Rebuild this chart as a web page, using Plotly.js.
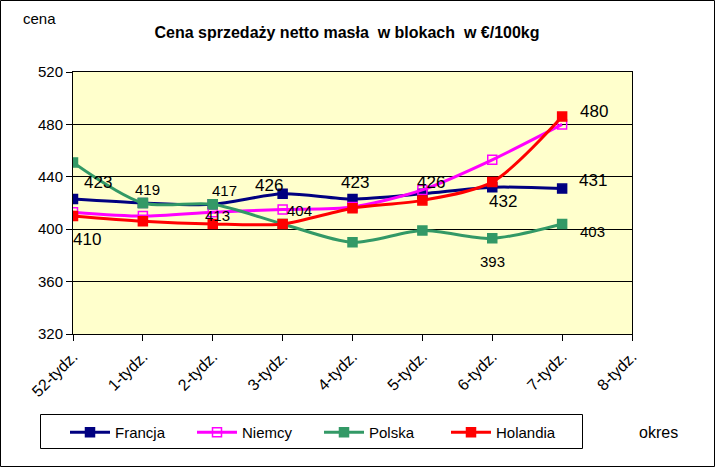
<!DOCTYPE html>
<html><head><meta charset="utf-8">
<script src="https://cdn.plot.ly/plotly-3.0.1.min.js"></script>
<style>body{margin:0;padding:0;background:#fff}#chart{width:715px;height:467px}</style>
</head><body><div id="chart"></div>
<script>
const categories = ["52-tydz.","1-tydz.","2-tydz.","3-tydz.","4-tydz.","5-tydz.","6-tydz.","7-tydz.","8-tydz."];
const dataCats = categories.slice(0,8);
const francja = [423, 420, 419, 427, 423, 427, 432, 431];
const niemcy  = [413, 410, 413, 415, 417, 430, 453, 480];
const polska  = [451, 420, 419, 404, 390, 399, 393, 404];
const holandia= [410, 406, 404, 404, 416, 422, 436, 486];
const labelTexts = ["423","419","417","413","426","404","410","423","426","432","393","480","431","403"];
const labelX =     [0.36, 1.07, 2.17, 2.07, 2.81, 3.24, 0.2, 4.03, 5.13, 6.16, 6.0, 7.46, 7.44, 7.44];
const labelY =     [435.3, 430, 429.2, 410.8, 433.7, 413.9, 391.8, 436, 436, 420.8, 375.7, 490.2, 436.8, 397.9];
const labelSize =  [17, 15, 15, 15, 17, 15, 17, 17, 17, 17, 15, 17, 17, 15];

function tr(name, y, color, sym){
  return {x: dataCats, y: y, name: name, type:'scatter', mode:'lines+markers',
    line:{color:color, width:3, shape:'spline', smoothing:0.8},
    marker:{symbol:sym, size:9, color:color, line:{color:color, width:1.5}}};
}
const traces = [
  tr('Francja', francja, '#000080', 'square'),
  tr('Niemcy', niemcy, '#FF00FF', 'square-open'),
  tr('Polska', polska, '#339966', 'square'),
  tr('Holandia', holandia, '#FF0000', 'square')
];
const FF = 'Liberation Sans, Arial';
const ann = labelTexts.map((t,i)=>({x:labelX[i], y:labelY[i], xref:'x', yref:'y', text:t, showarrow:false,
  font:{size:labelSize[i], color:'#000', family:FF}}));
const W=559, H=262;
ann.push({xref:'paper', yref:'paper', x:(39-73)/W, y:1+(72-18)/H, xanchor:'center', yanchor:'middle', text:'cena', showarrow:false, font:{size:15, family:FF}});
ann.push({xref:'paper', yref:'paper', x:(658-73)/W, y:-(432-334)/H, xanchor:'center', yanchor:'middle', text:'okres', showarrow:false, font:{size:16, family:FF}});
const layout = {
  width:715, height:467,
  margin:{l:73, r:83, t:72, b:133},
  paper_bgcolor:'#ffffff', plot_bgcolor:'#FFFFCC',
  font:{family:FF, color:'#000'},
  title:{text:'<b>Cena sprzedaży netto masła  w blokach  w €/100kg</b>', x:347/715, xanchor:'center', y:1-32/467, yanchor:'middle', font:{size:16, family:FF}},
  xaxis:{type:'category', categoryorder:'array', categoryarray:categories, range:[0,8], automargin:false,
    showgrid:false, showline:true, linecolor:'#000', linewidth:1, mirror:true,
    ticks:'outside', ticklen:6, tickcolor:'#000', tickangle:-45, tickfont:{size:16}, zeroline:false},
  yaxis:{range:[320,520], tickvals:[320,360,400,440,480,520], showgrid:true, gridcolor:'#000', gridwidth:1, automargin:false,
    showline:true, linecolor:'#000', linewidth:1, mirror:true, ticks:'outside', ticklen:6, tickcolor:'#000',
    tickfont:{size:15}, zeroline:false},
  showlegend:true,
  legend:{orientation:'h', x:-8/W, y:-82/H, xanchor:'left', yanchor:'top', borderwidth:0,
    bgcolor:'rgba(0,0,0,0)', font:{size:15}, entrywidth:72, itemwidth:40, traceorder:'normal'},
  annotations: ann,
  shapes:[
    {type:'rect', xref:'paper', yref:'paper', x0:-72.5/W, x1:1+82.5/W, y0:-132.5/H, y1:1+71.5/H, line:{color:'#000', width:1}},
    {type:'rect', xref:'paper', yref:'paper', x0:(40.5-73)/W, x1:(582.5-73)/W, y0:-(448.5-334)/H, y1:-(414.5-334)/H, line:{color:'#000', width:1}, fillcolor:'#fff', layer:'below'}
  ]
};
Plotly.newPlot('chart', traces, layout, {displayModeBar:false, staticPlot:true});
</script></body></html>
